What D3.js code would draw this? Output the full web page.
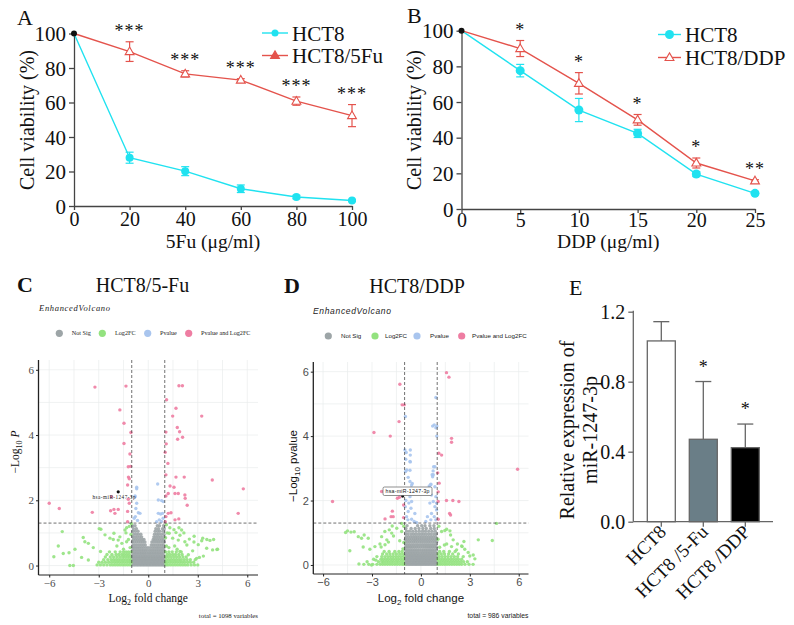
<!DOCTYPE html>
<html><head><meta charset="utf-8">
<script src="https://cdn.jsdelivr.net/npm/d3@7"></script>
<style>body{margin:0;background:#fff}svg{display:block}</style>
</head><body>
<svg id="chart" width="794" height="625"></svg>
<script>
// ---------- Panel A data ----------
const doseA = [0, 20, 40, 60, 80, 100];
const hct8A = [100, 28, 20.2, 10, 5.2, 3.2];
const hct8AErr = [0, 3.2, 2.6, 2.2, 1.0, 0.6];
const res5FuA = [100, 89.5, 76.6, 73, 60.8, 52.4];
const res5FuAErr = [0, 5.7, 1.8, 0.8, 2.4, 6.4];
const starsA = ["", "***", "***", "***", "***", "***"];
// ---------- Panel B data ----------
const doseB = [0, 5, 10, 15, 20, 25];
const hct8B = [100, 77.6, 55.5, 42.4, 19.6, 8.8];
const hct8BErr = [0, 3.5, 6.5, 2.3, 1.4, 0.8];
const resDDPB = [100, 90, 70.5, 50, 25.8, 15.8];
const resDDPBErr = [0, 4.5, 6.0, 3.0, 2.8, 0.6];
const starsB = ["", "*", "*", "*", "*", "**"];
const yTicksAB = [0, 20, 40, 60, 80, 100];
// ---------- Panel E data ----------
const groupsE = ["HCT8", "HCT8 /5-Fu", "HCT8 /DDP"];
const meanE = [1.033, 0.471, 0.423];
const errE = [0.11, 0.33, 0.135];
const starsE = ["", "*", "*"];
const yTicksE = [0, 0.4, 0.8, 1.2];
// ---------- Volcano C data (log2FC, -log10 p) ----------
const cSig = [[-3.23,5.47],[-1.35,5.5],[1.86,5.51],[2.07,5.51],[1.11,5.08],[1.68,4.82],[-1.72,4.77],[1.48,4.58],[3.24,4.58],[-1.47,4.36],[1.76,4.23],[1.9,4.1],[-1.05,4.08],[1.07,4.09],[2.08,3.93],[1.78,3.87],[-1.47,3.74],[1.09,3.73],[1.03,3.47],[-1.11,3.42],[1.19,3.13],[-1.21,3.03],[-1.07,3.04],[1.07,2.78],[1.68,2.71],[2.18,2.71],[-1.2,2.71],[-1.15,2.66],[3.88,2.62],[-1.25,2.47],[5.76,2.35],[-2.22,2.11],[1.32,2.44],[1.56,2.4],[1.21,2.21],[1.62,2.21],[1.82,2.21],[1.07,2.13],[2.22,2.16],[-1.21,2.03],[-1.15,1.91],[2.36,1.85],[-6.0,1.91],[-5.39,1.75],[-3.39,1.63],[-2.28,1.68],[-2.08,1.72],[-1.82,1.72],[-2.02,1.6],[-1.25,1.66],[5.45,1.6],[1.38,1.62],[1.62,1.4],[1.85,1.43],[-1.25,1.34],[1.03,1.34],[2.24,2.06],[1.07,1.5],[1.21,1.6],
  [0.57,2.5],[-0.7,2.4],[-0.8,2.11],[-0.7,1.91],[-0.75,1.75],[-0.6,1.62],[-0.5,1.6],[-0.78,1.5],[0.61,2.01],[0.81,1.99],[0.91,1.96],[0.61,1.6],[0.75,1.58],[0.87,1.6],[0.51,1.34],[0.67,1.4],[-0.7,2.35],[-0.8,2.13],[-0.85,1.45],[-0.65,1.38],[0.9,1.45],[0.8,1.35]];
const cGreen = [[-5.21,1.04],[-5.72,0.27],[-5.15,0.37],[-4.75,0.0],[-4.54,0.0],[-4.44,0.5],[-3.94,0.86],[-3.84,0.73],[-3.33,0.55],[-4.04,0.25],[-3.63,0.17],[-2.87,1.11],[-2.89,0.43],[-2.62,0.94],[-2.32,0.84],[-2.08,0.99],[-1.72,0.88],[-1.41,1.09],[-1.31,0.73],[-1.31,1.16],[1.31,1.16],[1.56,1.1],[1.86,1.16],[1.27,0.99],[1.68,1.01],[2.02,1.09],[1.48,0.84],[1.82,0.78],[2.22,0.73],[2.49,0.81],[2.77,0.72],[3.03,0.64],[3.3,0.84],[3.74,0.77],[3.9,0.48],[3.54,0.53],[4.2,0.5],[2.93,0.22],[3.34,0.29],[1.92,0.43],[2.43,0.33],[-5.45,0.6],[-4.8,0.39],[-3.63,0.68],[-2.97,1.13],[-2.12,0.8],[-1.82,0.78],[3.24,0.76],[3.55,0.8],[3.96,0.8],[4.16,0.49],[2.78,0.9],[3.1,0.25],[2.34,0.63],[1.92,0.93],[2.16,1.0],[2.69,0.45],[-1.1,0.55],[-1.5,0.5],[-1.2,0.8],[-1.6,0.68],[-1.05,0.95],[-1.15,1.2],[-1.9,0.6],[-1.35,1.0],[-1.02,1.28],[1.1,0.6],[1.25,0.55],[1.05,0.85],[1.15,1.0],[1.6,0.6],[1.1,1.25],[1.75,0.5]];
// rows: [ -log10 p, [log2FC values...] ]
const cGreenRows = [
  [0.02,[-3.1,-2.9,-2.7,-2.5,-2.3,-2.15,-2,-1.85,-1.7,-1.55,-1.4,-1.25,-1.1,1.08,1.2,1.35,1.5,1.65,1.8,1.95,2.1,2.25,2.4,2.6,2.8,3.0]],
  [0.1,[-3.0,-2.8,-2.6,-2.4,-2.22,-2.05,-1.9,-1.75,-1.6,-1.45,-1.3,-1.15,-1.04,1.05,1.15,1.3,1.45,1.6,1.75,1.9,2.05,2.2,2.38,2.55,2.75]],
  [0.18,[-2.7,-2.45,-2.25,-2.1,-1.95,-1.8,-1.65,-1.5,-1.35,-1.2,-1.07,1.1,1.25,1.4,1.55,1.7,1.85,2.0,2.18,2.35,2.55,2.85]],
  [0.26,[-2.6,-2.3,-2.1,-1.9,-1.72,-1.55,-1.4,-1.25,-1.1,1.08,1.22,1.38,1.55,1.72,1.9,2.1,2.3]],
  [0.34,[-2.5,-2.2,-1.95,-1.78,-1.6,-1.45,-1.3,-1.15,1.15,1.3,1.48,1.65,1.85,2.05]],
  [0.42,[-2.35,-2.0,-1.7,-1.5,-1.35,-1.2,-1.05,1.05,1.25,1.45,1.7,2.0]]];
const cGreyRows = [
  [0.02,[-0.97,-0.88,-0.79,-0.7,-0.61,-0.52,-0.43,-0.34,-0.25,-0.16,-0.07,0.02,0.11,0.2,0.29,0.38,0.47,0.56,0.65,0.74,0.83,0.92,0.98]],
  [0.09,[-0.93,-0.84,-0.75,-0.66,-0.57,-0.48,-0.39,-0.3,-0.21,-0.12,-0.03,0.06,0.15,0.24,0.33,0.42,0.51,0.6,0.69,0.78,0.87,0.95]],
  [0.16,[-0.96,-0.87,-0.78,-0.69,-0.6,-0.51,-0.42,-0.33,-0.24,-0.15,-0.06,0.03,0.12,0.21,0.3,0.39,0.48,0.57,0.66,0.75,0.84,0.93]],
  [0.23,[-0.94,-0.85,-0.76,-0.67,-0.58,-0.49,-0.4,-0.31,-0.22,-0.13,-0.04,0.05,0.14,0.23,0.32,0.41,0.5,0.59,0.68,0.77,0.86,0.96]],
  [0.3,[-0.97,-0.87,-0.77,-0.67,-0.57,-0.47,-0.37,-0.27,-0.17,-0.07,0.04,0.14,0.24,0.34,0.44,0.54,0.64,0.74,0.84,0.94]],
  [0.38,[-0.92,-0.82,-0.72,-0.62,-0.52,-0.42,-0.32,-0.22,-0.12,0.0,0.1,0.2,0.3,0.4,0.5,0.6,0.7,0.8,0.9]],
  [0.46,[-0.95,-0.84,-0.73,-0.62,-0.51,-0.4,-0.29,-0.18,-0.07,0.06,0.17,0.28,0.39,0.5,0.61,0.72,0.83,0.95]],
  [0.55,[-0.95,-0.85,-0.74,-0.63,-0.52,-0.4,-0.28,-0.15,-0.02,0.12,0.25,0.37,0.49,0.6,0.72,0.84,0.95]],
  [0.63,[-0.92,-0.8,-0.68,-0.55,-0.43,-0.3,-0.18,0.18,0.3,0.42,0.55,0.67,0.8,0.92]],
  [0.72,[-0.96,-0.84,-0.71,-0.58,-0.45,-0.33,-0.2,0.22,0.35,0.48,0.6,0.72,0.86,0.97]],
  [0.8,[-0.9,-0.77,-0.64,-0.5,-0.37,-0.26,0.3,0.42,0.55,0.68,0.82,0.94]],
  [0.88,[-0.93,-0.8,-0.66,-0.52,-0.4,0.34,0.47,0.6,0.74,0.9]],
  [0.96,[-0.88,-0.73,-0.6,-0.45,0.38,0.52,0.64,0.8,0.95]],
  [1.05,[-0.92,-0.78,-0.62,0.42,0.57,0.7,0.9]],
  [1.13,[-0.9,-0.72,0.46,0.62,0.86,0.97]],
  [1.22,[-0.95,-0.8,0.55,0.68,0.93]]];
const cLabel = {name: "hsa-miR-1247-3p", fc: -1.82, p: 2.26};
// ---------- Volcano D data ----------
const dSig = [[1.57,5.97],[1.72,5.83],[-1.29,5.61],[-1.15,4.97],[-1.02,4.97],[-1.34,4.45],[-2.88,4.11],[-1.88,4.0],[1.88,3.93],[1.88,3.81],[1.1,3.47],[1.27,3.41],[1.03,2.86],[5.93,2.97],[-5.42,1.97],[-2.2,1.43],[-1.75,1.67],[-1.83,1.5],[-1.44,2.07],[-1.32,2.1],[-2.41,2.28],[-1.06,1.86],[-1.7,1.5],[-1.06,1.47],[1.06,2.27],[1.06,1.97],[1.06,1.42],[1.12,2.54],[1.57,2.0],[1.96,2.0],[2.33,1.97],[1.76,1.6],[1.82,1.55],
  [0.92,5.2],[-0.95,4.61],[0.72,4.31],[0.92,4.26],[0.98,4.31],[0.97,4.0],[-0.98,3.57],[-0.9,3.49],[-0.65,3.57],[-0.65,3.41],[-0.65,3.2],[-0.94,2.9],[-0.67,2.94],[0.86,3.05],[0.75,2.92],[0.69,2.8],[-0.53,2.53],[0.61,2.51],[-0.93,3.28],[-0.67,3.21],[-0.87,2.95],[-0.57,2.48],[0.82,4.35],[0.78,3.05],[0.51,2.45],
  [-0.78,2.72],[-0.67,2.59],[-0.61,2.38],[-0.88,2.23],[-0.67,2.12],[-0.57,1.97],[-0.74,1.92],[-0.96,1.81],[-0.61,1.76],[-0.78,1.66],[-0.37,1.6],[-0.88,1.5],[-0.57,1.42],[-0.41,1.35],[-0.27,1.32],
  [0.76,2.8],[0.72,2.74],[0.61,2.49],[0.86,2.43],[0.51,2.28],[0.65,2.17],[0.92,2.12],[0.76,1.97],[0.55,1.92],[0.86,1.81],[0.96,1.71],[0.65,1.6],[0.82,1.5],[0.61,1.4],[0.92,1.4],[0.96,1.92],[-0.92,2.0],[-0.8,1.4],[0.3,1.35],[0.4,1.5]];
const dGreen = [[-4.5,1.06],[-4.29,1.02],[-4.09,1.03],[-4.36,0.44],[-3.84,0.88],[-3.64,0.83],[-3.48,0.93],[-3.23,0.83],[-3.8,0.03],[-3.54,0.56],[-3.13,0.49],[-2.82,0.57],[-2.51,0.65],[-2.76,0.15],[-3.03,0.0],[-2.21,1.04],[-1.94,1.09],[-1.76,1.21],[-2.41,0.88],[-2.09,0.78],[-1.68,0.9],[-1.18,1.04],[-1.18,1.29],[1.58,1.11],[1.78,1.06],[1.82,0.93],[1.27,1.04],[1.44,0.62],[3.52,0.78],[4.38,0.76],[4.64,1.29],[1.98,0.78],[2.24,0.65],[2.53,0.57],[2.69,0.49],[1.58,0.65],[1.88,0.57],[2.19,0.47],[2.9,0.39],[3.21,0.31],[3.31,0.19],[-4.62,1.01],[-2.44,0.56],[-2.2,0.63],[-1.99,0.71],[-1.79,0.99],[-1.48,1.14],[1.47,1.07],[2.5,0.59],[2.64,0.73],[3.0,0.28],[-1.05,0.7],[-1.1,0.5],[-1.3,0.75],[1.05,0.8],[1.15,0.55],[1.1,1.2],[-1.05,1.2]];
const dGreenRows = [
  [0.02,[-3.5,-3.2,-2.95,-2.7,-2.5,-2.35,-2.2,-2.05,-1.9,-1.75,-1.6,-1.45,-1.3,-1.15,-1.04,1.05,1.18,1.32,1.46,1.6,1.75,1.9,2.05,2.2,2.35,2.5,2.7,2.95,3.2]],
  [0.1,[-3.3,-2.6,-2.4,-2.28,-2.12,-1.98,-1.82,-1.68,-1.52,-1.38,-1.22,-1.08,1.1,1.25,1.4,1.55,1.7,1.85,2.0,2.15,2.3,2.45,2.62,2.85]],
  [0.18,[-2.9,-2.45,-2.3,-2.15,-2.0,-1.85,-1.7,-1.55,-1.4,-1.25,-1.1,1.04,1.2,1.35,1.5,1.66,1.82,1.98,2.14,2.3,2.5]],
  [0.26,[-2.7,-2.4,-2.2,-2.02,-1.86,-1.7,-1.54,-1.38,-1.22,-1.06,1.12,1.3,1.48,1.66,1.85,2.05,2.25,2.6]],
  [0.34,[-2.35,-2.1,-1.9,-1.7,-1.5,-1.3,-1.12,1.06,1.25,1.45,1.7,1.95,2.3]],
  [0.42,[-2.25,-1.95,-1.6,-1.35,-1.15,1.15,1.4,1.75,2.1]]];
const dGreyRows = [
  [0.02,[-0.97,-0.88,-0.79,-0.7,-0.61,-0.52,-0.43,-0.34,-0.25,-0.16,-0.07,0.02,0.11,0.2,0.29,0.38,0.47,0.56,0.65,0.74,0.83,0.92,0.98]],
  [0.09,[-0.93,-0.84,-0.75,-0.66,-0.57,-0.48,-0.39,-0.3,-0.21,-0.12,-0.03,0.06,0.15,0.24,0.33,0.42,0.51,0.6,0.69,0.78,0.87,0.95]],
  [0.16,[-0.96,-0.87,-0.78,-0.69,-0.6,-0.51,-0.42,-0.33,-0.24,-0.15,-0.06,0.03,0.12,0.21,0.3,0.39,0.48,0.57,0.66,0.75,0.84,0.93]],
  [0.23,[-0.94,-0.85,-0.76,-0.67,-0.58,-0.49,-0.4,-0.31,-0.22,-0.13,-0.04,0.05,0.14,0.23,0.32,0.41,0.5,0.59,0.68,0.77,0.86,0.96]],
  [0.3,[-0.97,-0.87,-0.77,-0.67,-0.57,-0.47,-0.37,-0.27,-0.17,-0.07,0.04,0.14,0.24,0.34,0.44,0.54,0.64,0.74,0.84,0.94]],
  [0.38,[-0.92,-0.82,-0.72,-0.62,-0.52,-0.42,-0.32,-0.22,-0.12,0.0,0.1,0.2,0.3,0.4,0.5,0.6,0.7,0.8,0.9]],
  [0.46,[-0.95,-0.84,-0.73,-0.62,-0.51,-0.4,-0.29,-0.18,-0.07,0.06,0.17,0.28,0.39,0.5,0.61,0.72,0.83,0.95]],
  [0.55,[-0.95,-0.85,-0.74,-0.63,-0.52,-0.4,-0.28,-0.15,-0.02,0.12,0.25,0.37,0.49,0.6,0.72,0.84,0.95]],
  [0.63,[-0.92,-0.8,-0.68,-0.55,-0.43,-0.3,-0.18,-0.05,0.08,0.2,0.32,0.44,0.56,0.68,0.8,0.92]],
  [0.72,[-0.96,-0.84,-0.71,-0.58,-0.45,-0.33,-0.2,-0.07,0.06,0.19,0.32,0.45,0.58,0.72,0.86,0.97]],
  [0.8,[-0.95,-0.83,-0.7,-0.57,-0.44,-0.32,-0.2,-0.07,0.06,0.19,0.32,0.45,0.58,0.71,0.84,0.96]],
  [0.88,[-0.9,-0.76,-0.62,-0.48,-0.35,-0.22,-0.08,0.06,0.2,0.34,0.48,0.62,0.76,0.9]],
  [0.96,[-0.93,-0.78,-0.6,-0.45,-0.3,-0.14,0.02,0.16,0.31,0.47,0.63,0.8,0.94]],
  [1.05,[-0.88,-0.7,-0.5,-0.3,-0.1,0.1,0.28,0.48,0.68,0.88]],
  [1.13,[-0.92,-0.6,-0.35,-0.12,0.12,0.33,0.6,0.82]],
  [1.22,[-0.85,-0.2,0.05,0.25,0.55,0.8]]];
const dLabel = {name: "hsa-miR-1247-3p", fc: -1.12, p: 2.14};
const volcanoXTicks = [-6, -3, 0, 3, 6];
const volcanoYTicks = [0, 2, 4, 6];
const legendNames = ["Not Sig", "Log2FC", "Pvalue", "Pvalue and Log2FC"];

// ---------- drawing ----------
const svg = d3.select("#chart");
const SERIF = "'Liberation Serif','Times New Roman',serif";
const SANS = "'Liberation Sans',Arial,sans-serif";
const CYAN = "#20E2F0", RED = "#E4534C";
const VCOL = {grey: "#9DA5A7", green: "#93E27F", blue: "#A9C5EE", pink: "#EE7DA2"};

function styleAxis(g, font, size, fill, stroke, sw) {
  g.attr("font-family", font).attr("font-size", size);
  g.selectAll("path,line").attr("stroke", stroke).attr("stroke-width", sw);
  g.selectAll("text").attr("fill", fill);
}

function linePanel(o) {
  const x = d3.scaleLinear().domain([0, o.xmax]).range([o.x0, o.x1]);
  const y = d3.scaleLinear().domain([0, 100]).range([o.y0, o.y1]);
  const g = svg.append("g");
  const ax = g.append("g").attr("transform", `translate(0,${o.y0})`)
    .call(d3.axisBottom(x).tickValues(o.dose).tickSize(4).tickSizeOuter(0).tickPadding(o.xPad));
  styleAxis(ax, SERIF, 20, "#111", "#444", 1.3);
  const ay = g.append("g").attr("transform", `translate(${o.x0},0)`)
    .call(d3.axisLeft(y).tickValues(yTicksAB).tickSize(5).tickSizeOuter(0).tickPadding(3));
  styleAxis(ay, SERIF, 21, "#111", "#444", 1.3);
  ay.selectAll("text").attr("dy", "0.34em");
  g.append("text").attr("x", (o.x0 + o.x1) / 2).attr("y", 248).attr("text-anchor", "middle")
    .attr("font-family", SERIF).attr("font-size", 19.5).attr("fill", "#111").text(o.xTitle);
  g.append("text").attr("transform", `translate(${o.yTitleX},${o.yTitleY}) rotate(-90)`).attr("text-anchor", "middle")
    .attr("font-family", SERIF).attr("font-size", 20).attr("fill", "#111").text("Cell viability (%)");
  g.append("text").attr("x", o.labX).attr("y", o.labY).attr("font-family", SERIF).attr("font-size", 22)
    .attr("fill", "#111").text(o.lab);
  const line = d3.line().x((d, i) => x(o.dose[i])).y(d => y(d));
  const series = [{v: o.s1, e: o.s1e, c: CYAN, kind: "circle"}, {v: o.s2, e: o.s2e, c: RED, kind: "tri"}];
  series.forEach(s => {
    g.append("path").datum(s.v).attr("d", line).attr("fill", "none").attr("stroke", s.c).attr("stroke-width", 1.4);
    s.v.forEach((v, i) => {
      if (i === 0) return;
      const cx = x(o.dose[i]);
      g.append("line").attr("x1", cx).attr("x2", cx).attr("y1", y(v - s.e[i])).attr("y2", y(v + s.e[i]))
        .attr("stroke", s.c).attr("stroke-width", 1.2);
      [v - s.e[i], v + s.e[i]].forEach(t => g.append("line").attr("x1", cx - 4).attr("x2", cx + 4)
        .attr("y1", y(t)).attr("y2", y(t)).attr("stroke", s.c).attr("stroke-width", 1.2));
      if (s.kind === "circle") {
        g.append("circle").attr("cx", cx).attr("cy", y(v)).attr("r", o.cr).attr("fill", s.c);
      } else {
        g.append("path").attr("d", d3.symbol(d3.symbolTriangle).size(34)()).attr("transform", `translate(${cx},${y(v) + 0.5})`)
          .attr("fill", "#fff").attr("stroke", s.c).attr("stroke-width", 1.1);
      }
    });
  });
  g.append("circle").attr("cx", x(0)).attr("cy", y(100)).attr("r", 3).attr("fill", "#111");
  o.stars.forEach((s, i) => {
    if (!s) return;
    const top = y(o.s2[i] + o.s2e[i]);
    g.append("text").attr("x", x(o.dose[i])).attr("y", top - 13 + 8).attr("text-anchor", "middle")
      .attr("font-family", SERIF).attr("font-size", 18).attr("letter-spacing", 1).attr("fill", "#111").text(s);
  });
  const L = o.leg;
  [[CYAN, "HCT8", "circle", L.y1], [RED, o.name2, o.legTri, L.y2]].forEach(([c, t, k, ly]) => {
    g.append("line").attr("x1", L.x0).attr("x2", L.x1).attr("y1", ly).attr("y2", ly).attr("stroke", c).attr("stroke-width", 1.4);
    const mx = (L.x0 + L.x1) / 2;
    if (k === "circle") g.append("circle").attr("cx", mx).attr("cy", ly).attr("r", L.r).attr("fill", c);
    else g.append("path").attr("d", d3.symbol(d3.symbolTriangle).size(34)()).attr("transform", `translate(${mx},${ly + 0.5})`)
      .attr("fill", k === "filled" ? c : "#fff").attr("stroke", c).attr("stroke-width", 1.1);
    g.append("text").attr("x", L.x1 + 4).attr("y", ly + 7.5).attr("font-family", SERIF).attr("font-size", 21)
      .attr("fill", "#111").text(t);
  });
}

linePanel({x0: 74, x1: 352, y0: 206, y1: 33.5, xmax: 100, dose: doseA, s1: hct8A, s1e: hct8AErr, s2: res5FuA, s2e: res5FuAErr,
  stars: starsA, xTitle: "5Fu (μg/ml)", yTitleX: 33.5, yTitleY: 120, lab: "A", labX: 17, labY: 25, cr: 4, xPad: 2,
  name2: "HCT8/5Fu", legTri: "filled", leg: {x0: 262, x1: 288, y1: 33, y2: 55.5, r: 3.5}});
linePanel({x0: 461.5, x1: 755, y0: 209, y1: 30.7, xmax: 25, dose: doseB, s1: hct8B, s1e: hct8BErr, s2: resDDPB, s2e: resDDPBErr,
  stars: starsB, xTitle: "DDP (μg/ml)", yTitleX: 421, yTitleY: 120, lab: "B", labX: 407, labY: 23, cr: 4.5, xPad: 0,
  name2: "HCT8/DDP", legTri: "open", leg: {x0: 658, x1: 681, y1: 34.5, y2: 57.5, r: 4.5}});

// ---------- Volcano ----------
function classify(d) {
  const fc = Math.abs(d[0]) > 1, p = d[1] > 1.301;
  return fc && p ? "pink" : fc ? "green" : p ? "blue" : "grey";
}
function rowsToPoints(rows) {
  const out = [];
  rows.forEach(([py, xs]) => xs.forEach(fx => out.push([fx, py])));
  return out;
}
function volcano(o) {
  const x = d3.scaleLinear().domain(o.xd).range([o.left, o.right]);
  const y = d3.scaleLinear().domain(o.yd).range([o.bottom, o.top]);
  const g = svg.append("g");
  const font = o.font;
  g.append("text").attr("x", o.labX).attr("y", o.titleY).attr("font-family", SERIF).attr("font-weight", "bold")
    .attr("font-size", 22).attr("fill", "#111").text(o.lab);
  g.append("text").attr("x", o.titleX).attr("y", o.titleY).attr("text-anchor", "middle").attr("font-family", SERIF)
    .attr("font-size", 20).attr("fill", "#111").text(o.title);
  g.append("text").attr("x", o.subX).attr("y", o.subY).attr("font-family", font).attr("font-style", "italic")
    .attr("font-size", 8.5).attr("textLength", o.subW).attr("fill", "#222").text("EnhancedVolcano");
  const keys = ["grey", "green", "blue", "pink"];
  keys.forEach((k, i) => {
    g.append("circle").attr("cx", o.legC[i]).attr("cy", o.legY).attr("r", 3.6).attr("fill", VCOL[k]);
    g.append("text").attr("x", o.legT[i]).attr("y", o.legY + 2).attr("font-family", font).attr("font-size", 6.2)
      .attr("fill", "#222").text(legendNames[i]);
  });
  const gx = [-6, -4.5, -3, -1.5, 0, 1.5, 3, 4.5, 6], gy = [0, 1, 2, 3, 4, 5, 6];
  gx.forEach(v => g.append("line").attr("x1", x(v)).attr("x2", x(v)).attr("y1", o.top).attr("y2", o.bottom)
    .attr("stroke", "#E9ECEC").attr("stroke-width", 0.7));
  gy.forEach(v => g.append("line").attr("x1", o.left).attr("x2", o.right).attr("y1", y(v)).attr("y2", y(v))
    .attr("stroke", "#E9ECEC").attr("stroke-width", 0.7));
  const pts = rowsToPoints(o.greyRows).concat(rowsToPoints(o.greenRows), o.green, o.sig);
  const order = {grey: 0, green: 1, blue: 2, pink: 3};
  pts.sort((a, b) => order[classify(a)] - order[classify(b)]);
  g.append("g").selectAll("circle").data(pts).join("circle")
    .attr("cx", d => x(d[0])).attr("cy", d => y(d[1])).attr("r", 1.7)
    .attr("fill", d => VCOL[classify(d)]).attr("fill-opacity", 0.9);
  [-1, 1].forEach(v => g.append("line").attr("x1", x(v)).attr("x2", x(v)).attr("y1", o.top).attr("y2", o.bottom)
    .attr("stroke", "#333").attr("stroke-width", 0.7).attr("stroke-dasharray", "3,2"));
  g.append("line").attr("x1", o.left).attr("x2", o.right).attr("y1", y(-Math.log10(0.05))).attr("y2", y(-Math.log10(0.05)))
    .attr("stroke", "#333").attr("stroke-width", 0.7).attr("stroke-dasharray", "3,2");
  const lp = o.label;
  g.append("circle").attr("cx", x(lp.fc)).attr("cy", y(lp.p)).attr("r", 1.6).attr("fill", "#111");
  if (o.boxed) {
    g.append("rect").attr("x", o.lbx).attr("y", o.lby).attr("width", 49).attr("height", 8.5).attr("rx", 1.5)
      .attr("fill", "#fff").attr("stroke", "#444").attr("stroke-width", 0.6);
    g.append("text").attr("x", o.lbx + 24.5).attr("y", o.lby + 6.3).attr("text-anchor", "middle").attr("font-family", font)
      .attr("font-size", 5.2).attr("textLength", 44).attr("fill", "#111").text(lp.name);
  } else {
    g.append("text").attr("x", o.lbx).attr("y", o.lby).attr("font-family", font)
      .attr("font-size", 5.2).attr("textLength", 43).attr("fill", "#222").text(lp.name);
  }
  const fmt = d3.format("d");
  const ax = g.append("g").attr("transform", `translate(0,${o.bottom})`)
    .call(d3.axisBottom(x).tickValues(volcanoXTicks).tickFormat(fmt).tickSize(2.5).tickSizeOuter(0).tickPadding(2));
  styleAxis(ax, font, 11, "#4D4D4D", "#222", 1);
  ax.select("path").attr("d", `M${o.left},0H${o.right}`);
  const ay = g.append("g").attr("transform", `translate(${o.left},0)`)
    .call(d3.axisLeft(y).tickValues(volcanoYTicks).tickFormat(fmt).tickSize(2.5).tickSizeOuter(0).tickPadding(2));
  styleAxis(ay, font, 11, "#4D4D4D", "#222", 1);
  ay.select("path").attr("d", `M0,${o.bottom}V${o.top}`).attr("stroke-width", 1.3);
  const xt = g.append("text").attr("x", (o.left + o.right) / 2).attr("y", 602).attr("text-anchor", "middle")
    .attr("font-family", font).attr("font-size", 11.5).attr("fill", "#111");
  xt.append("tspan").text("Log");
  xt.append("tspan").attr("dy", 3).attr("font-size", 8).text("2");
  xt.append("tspan").attr("dy", -3).text(" fold change");
  const yt = g.append("text").attr("transform", `translate(${o.ytX},${o.ytY}) rotate(-90)`).attr("text-anchor", "middle")
    .attr("font-family", font).attr("font-size", 11.5).attr("fill", "#111");
  yt.append("tspan").text("\u2212Log");
  yt.append("tspan").attr("dy", 3).attr("font-size", 8).text("10");
  yt.append("tspan").attr("dy", -3).text(" ");
  yt.append("tspan").attr("font-style", o.pItalic ? "italic" : "normal").text(o.pName);
  g.append("text").attr("x", o.right).attr("y", 618).attr("text-anchor", "end").attr("font-family", font)
    .attr("font-size", 6.8).attr("fill", "#222").text(o.total);
}

volcano({left: 38.5, right: 258, top: 360, bottom: 575, xd: [-6.65, 6.65], yd: [-0.29, 6.3], font: SERIF,
  lab: "C", labX: 17, title: "HCT8/5-Fu", titleX: 142.5, titleY: 292, subX: 39, subY: 311, subW: 71,
  legY: 333.3, legC: [59.3, 102.3, 147.7, 188.7], legT: [71.7, 115, 160, 201],
  greyRows: cGreyRows, greenRows: cGreenRows, green: cGreen, sig: cSig, label: cLabel, boxed: false, lbx: 92.5, lby: 499,
  ytX: 19, ytY: 452, pName: "P", pItalic: true, total: "total = 1098 variables"});
volcano({left: 313.3, right: 528.5, top: 362, bottom: 574, xd: [-6.6, 6.6], yd: [-0.28, 6.3], font: SANS,
  lab: "D", labX: 284, title: "HCT8/DDP", titleX: 417, titleY: 292.5, subX: 313, subY: 314, subW: 78,
  legY: 336, legC: [328.3, 375, 417, 461.7], legT: [341, 385, 430, 472],
  greyRows: dGreyRows, greenRows: dGreenRows, green: dGreen, sig: dSig, label: dLabel, boxed: true, lbx: 383, lby: 487,
  ytX: 297, ytY: 466, pName: "pvalue", pItalic: false, total: "total = 986 variables"});

// ---------- Panel E ----------
(function () {
  const x = d3.scaleBand().domain(groupsE).range([640.3, 766.3]).paddingInner(1 / 3).paddingOuter(1 / 6);
  const y = d3.scaleLinear().domain([0, 1.2]).range([521.7, 311.7]);
  const g = svg.append("g");
  const fills = ["#fff", "#6A7E87", "#000"];
  groupsE.forEach((k, i) => {
    const cx = x(k) + x.bandwidth() / 2;
    g.append("line").attr("x1", cx).attr("x2", cx).attr("y1", y(meanE[i])).attr("y2", y(meanE[i] + errE[i]))
      .attr("stroke", "#666").attr("stroke-width", 1.3);
    g.append("line").attr("x1", cx - 8).attr("x2", cx + 8).attr("y1", y(meanE[i] + errE[i])).attr("y2", y(meanE[i] + errE[i]))
      .attr("stroke", "#666").attr("stroke-width", 1.3);
    g.append("rect").attr("x", x(k)).attr("y", y(meanE[i])).attr("width", x.bandwidth()).attr("height", y(0) - y(meanE[i]))
      .attr("fill", fills[i]).attr("stroke", "#666").attr("stroke-width", 1.3);
    if (starsE[i]) g.append("text").attr("x", cx).attr("y", y(meanE[i] + errE[i]) - 17 + 8).attr("text-anchor", "middle")
      .attr("font-family", SERIF).attr("font-size", 18).attr("fill", "#111").text(starsE[i]);
  });
  const ax = g.append("g").attr("transform", "translate(0,521.7)")
    .call(d3.axisBottom(x).tickSize(5).tickSizeOuter(0).tickFormat(""));
  styleAxis(ax, SERIF, 19, "#111", "#666", 1.3);
  ax.select("path").attr("d", "M633.3,0H773");
  groupsE.forEach(k => {
    const cx = x(k) + x.bandwidth() / 2;
    g.append("text").attr("transform", `translate(${cx + 6},${533}) rotate(-45)`).attr("text-anchor", "end")
      .attr("font-family", SERIF).attr("font-size", 19).attr("fill", "#111").text(k);
  });
  const ay = g.append("g").attr("transform", "translate(633.3,0)")
    .call(d3.axisLeft(y).tickValues(yTicksE).tickSize(5).tickSizeOuter(0).tickPadding(3).tickFormat(d3.format(".1f")));
  styleAxis(ay, SERIF, 20, "#111", "#666", 1.3);
  ay.selectAll("text").attr("dy", "0.34em");
  ay.select("path").attr("d", "M0,521.7V310.7");
  g.append("text").attr("transform", "translate(573.5,430) rotate(-90)").attr("text-anchor", "middle")
    .attr("font-family", SERIF).attr("font-size", 20).attr("fill", "#111").text("Relative expression of");
  g.append("text").attr("transform", "translate(597,430) rotate(-90)").attr("text-anchor", "middle")
    .attr("font-family", SERIF).attr("font-size", 20).attr("fill", "#111").text("miR-1247-3p");
  g.append("text").attr("x", 569).attr("y", 295).attr("font-family", SERIF).attr("font-size", 22).attr("fill", "#111").text("E");
})();
</script>
</body></html>
